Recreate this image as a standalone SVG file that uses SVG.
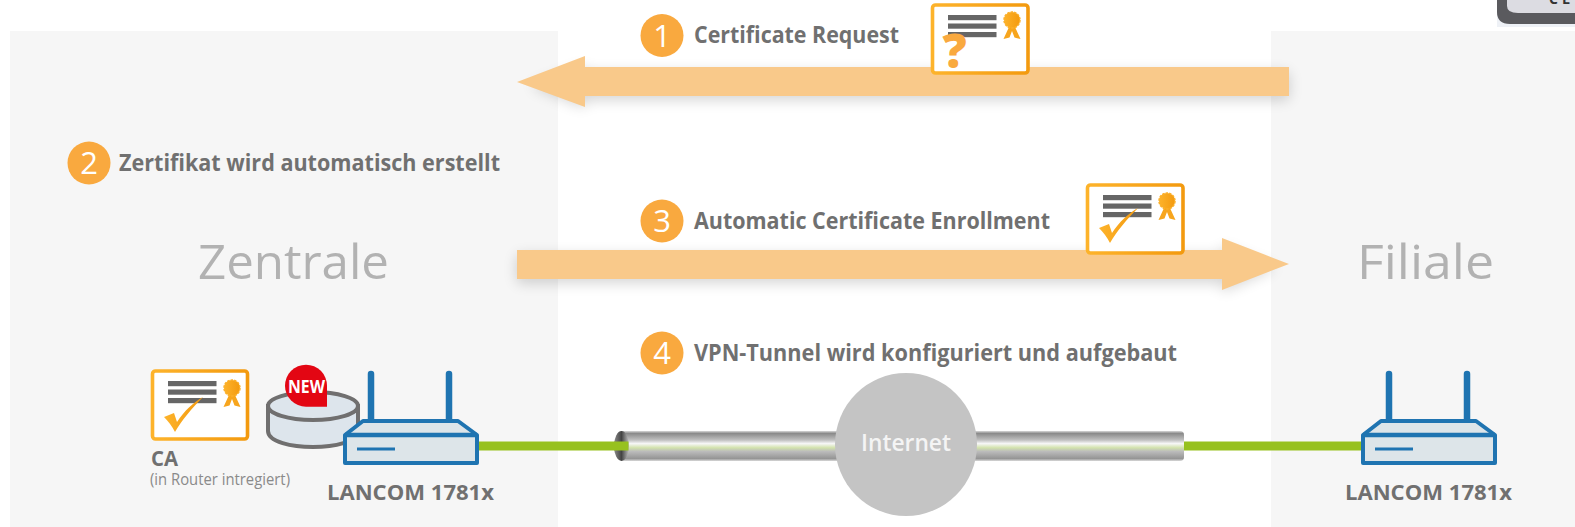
<svg xmlns="http://www.w3.org/2000/svg" width="1575" height="527" viewBox="0 0 1575 527">
<style>
text{font-family:"Open Sans","Noto Sans","Liberation Sans",sans-serif}
.lbl{font-size:23.500px;font-weight:700;fill:#707070}
.num{font-size:31px;fill:#fff;text-anchor:middle}
.badge{fill:#f9a93f}
.site{font-size:48px;font-weight:400;fill:#b2b2b2}
.dev{font-size:21px;font-weight:700;fill:#707070}
.bar{fill:#666}
.card{fill:#fff;stroke:url(#og);stroke-width:3.600}
.rt{fill:#dde5e9;stroke:#1f74b1;stroke-width:4;stroke-linejoin:round}
.ant{stroke:#1f74b1;stroke-width:6.500;stroke-linecap:round;fill:none}
.green{fill:#97c11f}
.arrow{fill:#f9c98a}
.sh{fill:#000;opacity:.17;filter:url(#blur)}
</style>
<defs>
<filter id="blur" x="-5%" y="-100%" width="110%" height="300%"><feGaussianBlur stdDeviation="7"/></filter>
<linearGradient id="og"><stop offset="0" stop-color="#fdb32b"/><stop offset="1" stop-color="#f39a0f"/></linearGradient>
<linearGradient id="pipe" x1="0" y1="0" x2="0" y2="1">
<stop offset="0" stop-color="#d8d8d8"/><stop offset=".08" stop-color="#8a8a8a"/><stop offset=".3" stop-color="#c0c0c0"/><stop offset=".42" stop-color="#f7f7f7"/><stop offset=".56" stop-color="#d2e2ac"/><stop offset=".68" stop-color="#bcbcbc"/><stop offset=".92" stop-color="#959595"/><stop offset="1" stop-color="#dadada"/>
</linearGradient>
<linearGradient id="hole"><stop offset="0" stop-color="#8a8a8a"/><stop offset=".5" stop-color="#444"/><stop offset="1" stop-color="#bdbdbd"/></linearGradient>
<g id="seal">
<path d="M-3 7L-8.500 19L-2.500 17.500L0 11L2.500 17.500L8.500 19L3 7Z" fill="#f7a51d"/>
<circle r="8" fill="url(#og)"/>
<circle r="8" fill="none" stroke="#fbb02a" stroke-width="1.500" stroke-dasharray="2.500 1.100"/>
</g>
<g id="bars">
<rect class="bar" width="48.500" height="5.200"/><rect class="bar" y="8.500" width="48.500" height="5.200"/><rect class="bar" y="17" width="48.500" height="5.200"/>
</g>
<path id="tick" d="M0 0L10 -4L13 5C20 -6 30 -15 39 -20C28 -9 18 3 11 15C8 9 4 4 0 0Z" fill="url(#og)"/>
<g id="router">
<path class="ant" d="M27 3V50"/><path class="ant" d="M105 3V50"/>
<path class="rt" d="M1 64L19 50H114L133 64V92H1Z"/>
<path d="M1 64H133" stroke="#1f74b1" stroke-width="4.500" fill="none"/>
<path d="M13 78H51" stroke="#1f74b1" stroke-width="3" fill="none"/>
</g>
</defs>

<g id="panels">
<rect x="10" y="31" width="548" height="496" fill="#f6f6f6"/>
<rect x="1271" y="31" width="304" height="496" fill="#f6f6f6"/>
</g>

<g id="window-corner">
<rect x="1497" y="0" width="78" height="27" fill="#eef1f6"/>
<path d="M1497 0V12Q1497 24 1510 24H1575V0Z" fill="#5a5a5e"/>
<path d="M1507 0V6Q1507 13 1518 13H1575V0Z" fill="#dcdce2"/>
<text x="1549" y="4" font-size="14" font-weight="700" fill="#333" letter-spacing="4">CL</text>
</g>

<g id="connectors">
<path class="sh" d="M530 86L585 66V72H1289V100H585V108Z"/>
<path class="sh" d="M1276 268L1222 246V255H517V283H1222V292Z"/>
<path class="arrow" d="M517 82L585 56V67H1289V96H585V107Z"/>
<path class="arrow" d="M1289 264L1222 238V250H517V279H1222V290Z"/>
<rect class="green" x="474" y="441.500" width="142" height="9"/>
<rect class="green" x="1180" y="441.500" width="185" height="9"/>
</g>

<g id="internet">
<rect x="620" y="431" width="564" height="30" rx="4" fill="url(#pipe)"/>
<ellipse cx="621.500" cy="446" rx="7.500" ry="15" fill="url(#hole)"/>
<rect class="green" x="614" y="441.500" width="14.500" height="9"/>
<ellipse cx="906" cy="444.500" rx="71" ry="71.500" fill="#c4c4c4"/>
<text x="861" y="451" font-size="23" font-weight="600" fill="#f4f4f4" textLength="90" lengthAdjust="spacingAndGlyphs">Internet</text>
</g>

<g id="step1">
<circle class="badge" cx="662" cy="35.500" r="21.500"/><text class="num" x="662" y="47">1</text>
<text class="lbl" x="694" y="43" textLength="205" lengthAdjust="spacingAndGlyphs">Certificate Request</text>
</g>
<g id="cert-request">
<rect class="card" x="932.500" y="5" width="95.500" height="68" rx="3"/>
<use href="#bars" x="948" y="15"/>
<use href="#seal" x="1012" y="20"/>
<text x="954.500" y="68" text-anchor="middle" font-size="48" font-weight="800" fill="#f9a93f">?</text>
</g>
<g id="step2">
<circle class="badge" cx="89" cy="163" r="21.500"/><text class="num" x="89" y="174">2</text>
<text class="lbl" x="119" y="171" textLength="381" lengthAdjust="spacingAndGlyphs">Zertifikat wird automatisch erstellt</text>
</g>
<g id="step3">
<circle class="badge" cx="662" cy="221" r="21.500"/><text class="num" x="662" y="232">3</text>
<text class="lbl" x="694" y="229" textLength="356" lengthAdjust="spacingAndGlyphs">Automatic Certificate Enrollment</text>
</g>
<g id="cert-enrollment">
<rect class="card" x="1087.500" y="185" width="95.500" height="68" rx="3"/>
<use href="#bars" x="1103" y="195"/>
<use href="#seal" x="1167" y="201"/>
<use href="#tick" x="1099" y="228"/>
</g>
<g id="step4">
<circle class="badge" cx="662" cy="353" r="21.500"/><text class="num" x="662" y="364">4</text>
<text class="lbl" x="694" y="361" textLength="483" lengthAdjust="spacingAndGlyphs">VPN-Tunnel wird konfiguriert und aufgebaut</text>
</g>

<text id="zentrale" class="site" x="198" y="279" textLength="191" lengthAdjust="spacingAndGlyphs">Zentrale</text>
<text id="filiale" class="site" x="1357" y="279" textLength="137" lengthAdjust="spacingAndGlyphs">Filiale</text>

<g id="ca">
<rect class="card" x="152.500" y="371" width="95" height="68" rx="3"/>
<use href="#bars" x="168" y="381"/>
<use href="#seal" x="232" y="388"/>
<use href="#tick" x="164" y="417"/>
<text x="151" y="466" font-size="22" font-weight="700" fill="#707070" textLength="27" lengthAdjust="spacingAndGlyphs">CA</text>
<text x="150" y="485" font-size="15.500" fill="#8a8a8a" textLength="140" lengthAdjust="spacingAndGlyphs">(in Router intregiert)</text>
</g>

<g id="database">
<path d="M268 406V431C268 442 292 447 313 447C334 447 358 442 358 431V406Z" fill="#dde5ec" stroke="#706f6f" stroke-width="4"/>
<ellipse cx="313" cy="406" rx="45" ry="14" fill="#dde5ec" stroke="#706f6f" stroke-width="4"/>
<path d="M327 406.700H306A21 21 0 1 1 327 385.700Z" fill="#e30613"/>
<text x="288" y="393" font-size="17" font-weight="700" fill="#fff" textLength="37" lengthAdjust="spacingAndGlyphs">NEW</text>
</g>

<g id="router-left">
<use href="#router" x="344" y="371"/>
<text class="dev" x="327" y="500" textLength="167" lengthAdjust="spacingAndGlyphs">LANCOM 1781x</text>
</g>
<g id="router-right">
<use href="#router" x="1362" y="371"/>
<text class="dev" x="1345" y="500" textLength="167" lengthAdjust="spacingAndGlyphs">LANCOM 1781x</text>
</g>
</svg>
